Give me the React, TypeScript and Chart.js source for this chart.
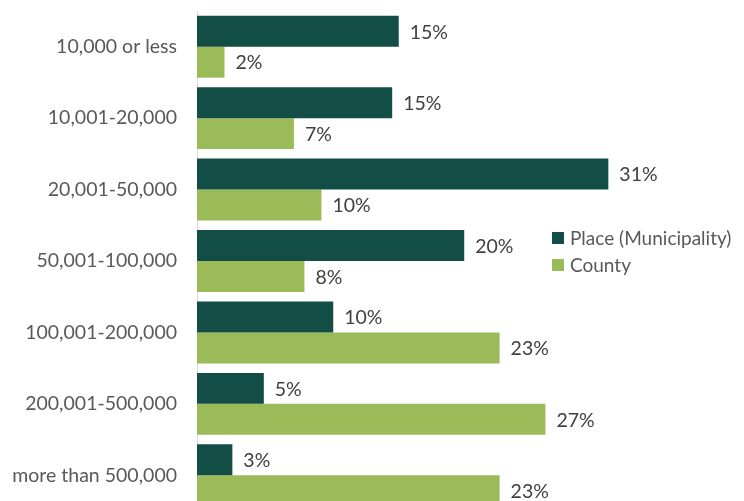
import React, { useEffect, useRef } from "react";
import { Chart, registerables } from "chart.js";

Chart.register(...registerables);

const categories = [
  "10,000 or less",
  "10,001-20,000",
  "20,001-50,000",
  "50,001-100,000",
  "100,001-200,000",
  "200,001-500,000",
  "more than 500,000",
];
const placeValues = [15.4, 14.9, 31.4, 20.4, 10.4, 5.1, 2.7];
const countyValues = [2.1, 7.4, 9.5, 8.2, 23.1, 26.6, 23.1];
const seriesNames = ["Place (Municipality)", "County"];
const colors = ["#124e45", "#9bbb59"];

const FONT = "Lato, 'Open Sans', sans-serif";

const labelPlugin = {
  id: "valueLabels",
  afterDatasetsDraw(chart: any) {
    const ctx = chart.ctx;
    ctx.save();
    ctx.font = `19.5px ${FONT}`;
    ctx.fillStyle = "#404040";
    ctx.textAlign = "left";
    ctx.textBaseline = "middle";
    chart.data.datasets.forEach((ds: any, i: number) => {
      const meta = chart.getDatasetMeta(i);
      meta.data.forEach((bar: any, j: number) => {
        const v = ds.data[j];
        ctx.fillText(Math.round(v) + "%", bar.x + 11, bar.y + 1);
      });
    });
    ctx.restore();
  },
};

export default function App() {
  const ref = useRef<HTMLCanvasElement>(null);
  useEffect(() => {
    if (!ref.current) return;
    const chart = new Chart(ref.current, {
      type: "bar",
      data: {
        labels: categories,
        datasets: [
          { label: seriesNames[0], data: placeValues, backgroundColor: colors[0] },
          { label: seriesNames[1], data: countyValues, backgroundColor: colors[1] },
        ],
      },
      options: {
        indexAxis: "y",
        responsive: false,
        animation: false,
        devicePixelRatio: 1,
        layout: { padding: { top: 11, bottom: 9, left: 0, right: 23 } },
        datasets: { bar: { categoryPercentage: 0.867, barPercentage: 1 } },
        plugins: { legend: { display: false }, tooltip: { enabled: false } },
        scales: {
          x: { display: false, min: 0, max: 40 },
          y: {
            grid: { display: false, drawTicks: false },
            border: { display: true, color: "#d9d9d9", width: 1 },
            ticks: { color: "#595959", font: { family: FONT, size: 19.5 }, padding: 20 },
            afterFit(scale: any) {
              scale.width = 197;
              scale.paddingTop = 0;
              scale.paddingBottom = 0;
            },
          },
        },
      },
      plugins: [labelPlugin],
    } as any);
    return () => chart.destroy();
  }, []);

  const legendRow = (i: number, top: number) => (
    <div style={{ position: "absolute", left: 552, top, display: "flex", alignItems: "center" }}>
      <div style={{ width: 12, height: 12, background: colors[i], marginRight: 6 }} />
      <span style={{ fontFamily: FONT, fontSize: 19, color: "#595959", lineHeight: "22px", whiteSpace: "nowrap" }}>
        {seriesNames[i]}
      </span>
    </div>
  );

  return (
    <div style={{ position: "fixed", left: 0, top: 0, width: 744, height: 501, overflow: "hidden", background: "#fff" }}>
      <canvas ref={ref} width={744} height={520} style={{ display: "block" }} />
      {legendRow(0, 227)}
      {legendRow(1, 254)}
    </div>
  );
}
